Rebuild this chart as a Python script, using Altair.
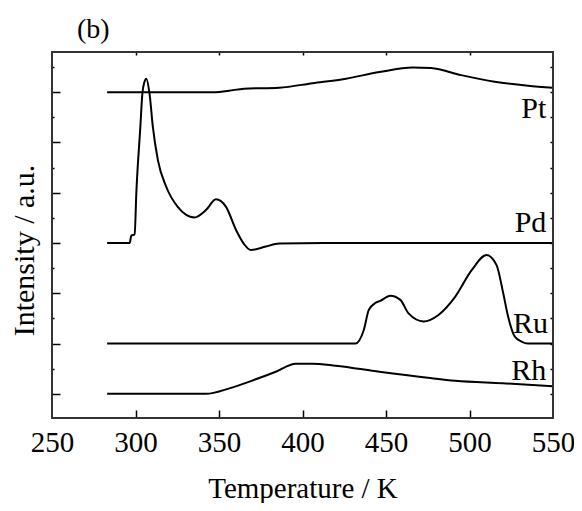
import altair as alt
import pandas as pd

FONT = "Liberation Serif"
FRAME = "#333333"

# Temperature (K) and offset intensity (a.u.)
pt_T = [283, 300, 330, 348, 356, 365, 386, 406, 426, 446, 466, 477, 495, 515, 535, 550]
pt_I = [7.0, 7.0, 7.0, 7.0, 7.03, 7.07, 7.09, 7.18, 7.27, 7.40, 7.49, 7.48, 7.34, 7.21, 7.13, 7.09]

pd_T = [283, 296.5, 297.5, 299.5, 300.5, 302.9, 304.1, 305.3, 306.5, 308.4, 310.4, 313.4,
        318.4, 325.3, 335.3, 342.3, 348.2, 354.2, 360.2, 365, 369.1, 378, 386, 420, 550]
pd_I = [4.0, 4.0, 4.15, 4.17, 5.0, 6.31, 6.97, 7.2, 7.27, 6.97, 6.31, 5.65,
        5.12, 4.72, 4.51, 4.66, 4.87, 4.72, 4.26, 3.98, 3.86, 3.93, 3.99, 4.0, 4.0]

ru_T = [283, 431.7, 436.7, 439.7, 443.7, 446.6, 452.6, 458.6, 463.5, 472.5, 481.4, 491.4,
        501.3, 510.2, 516.2, 520.2, 523.1, 527.1, 531.1, 535, 550]
ru_I = [2.0, 2.0, 2.27, 2.67, 2.81, 2.85, 2.95, 2.87, 2.60, 2.44, 2.57, 2.93,
        3.46, 3.76, 3.56, 3.0, 2.54, 2.14, 2.04, 2.0, 2.0]

rh_T = [283, 342.3, 356.2, 372, 384, 395.9, 405.8, 419.8, 446, 475, 491.5, 520, 550]
rh_I = [1.0, 1.0, 1.11, 1.29, 1.44, 1.6, 1.6, 1.56, 1.44, 1.32, 1.26, 1.21, 1.15]

metals = ["Pt", "Pd", "Ru", "Rh"]
label_T = [546, 546, 547, 546]
label_I = [6.49, 4.22, 2.21, 1.28]

x_domain = [250, 550]
y_domain = [0.52, 7.80]
x_major = [300, 350, 400, 450, 500]
x_labels = [250, 300, 350, 400, 450, 500, 550]
y_major = [1, 2, 3, 4, 5, 6, 7]
y_minor = [1.5, 2.5, 3.5, 4.5, 5.5, 6.5, 7.5]
y_right = [1, 1.5, 2, 2.5, 3, 3.5, 4, 4.5, 5, 5.5, 6, 6.5, 7, 7.5]

rows = []
for name, Ts, Is in [("Pt", pt_T, pt_I), ("Pd", pd_T, pd_I), ("Ru", ru_T, ru_I), ("Rh", rh_T, rh_I)]:
    for t, v in zip(Ts, Is):
        rows.append({"metal": name, "T": t, "I": v})
df = pd.DataFrame(rows)
lab = pd.DataFrame({"metal": metals, "T": label_T, "I": label_I})
vsides = pd.DataFrame({"x": x_domain, "y1": [y_domain[0]] * 2, "y2": [y_domain[1]] * 2})
hsides = pd.DataFrame({"y": y_domain, "x1": [x_domain[0]] * 2, "x2": [x_domain[1]] * 2})

xs = alt.Scale(domain=x_domain, nice=False, zero=False)
ys = alt.Scale(domain=y_domain, nice=False, zero=False)

W, H = 501, 366

frame_v = alt.Chart(vsides).mark_rule(color=FRAME, strokeWidth=1.8).encode(
    x=alt.X("x:Q", scale=xs, axis=None),
    y=alt.Y("y1:Q", scale=ys, axis=None),
    y2="y2:Q",
)
frame_h = alt.Chart(hsides).mark_rule(color=FRAME, strokeWidth=1.8).encode(
    y=alt.Y("y:Q", scale=ys, axis=None),
    x=alt.X("x1:Q", scale=xs, axis=None),
    x2="x2:Q",
)

lines = alt.Chart(df).mark_line(color="black", strokeWidth=2, interpolate="monotone").encode(
    x=alt.X("T:Q", scale=xs, title="Temperature / K",
            axis=alt.Axis(orient="bottom", values=x_labels, ticks=False, tickSize=0,
                          domain=False, grid=False, labelFontSize=29, labelFont=FONT,
                          labelColor="black", labelBaseline="alphabetic", labelPadding=33,
                          labelFlush=False, titleFontSize=29, titleFont=FONT,
                          titleFontWeight="normal", titleColor="black",
                          titleBaseline="alphabetic", titleY=79)),
    y=alt.Y("I:Q", scale=ys, title="Intensity / a.u.",
            axis=alt.Axis(orient="left", labels=False, ticks=False, tickSize=0,
                          domain=False, grid=False, titleFontSize=30, titleFont=FONT,
                          titleFontWeight="normal", titleColor="black", titleAngle=270,
                          titleBaseline="alphabetic", titleAlign="center",
                          titleX=-19, titleY=198)),
    detail="metal:N",
)

tick_common = dict(labels=False, domain=False, grid=False, tickColor="black", tickWidth=1.5)

ticks_a = alt.Chart(df).mark_line(strokeOpacity=0).encode(
    x=alt.X("T:Q", scale=xs, title=None,
            axis=alt.Axis(orient="bottom", values=x_major, tickSize=8, offset=-8, **tick_common)),
    y=alt.Y("I:Q", scale=ys, title=None,
            axis=alt.Axis(orient="left", values=y_major, tickSize=8, offset=-8, **tick_common)),
    detail="metal:N",
)

ticks_b = alt.Chart(df).mark_line(strokeOpacity=0).encode(
    x=alt.X("T:Q", scale=xs, title=None,
            axis=alt.Axis(orient="top", values=x_major, tickSize=3, offset=-3, **tick_common)),
    y=alt.Y("I:Q", scale=ys, title=None,
            axis=alt.Axis(orient="right", values=y_right, tickSize=3, offset=-3, **tick_common)),
    detail="metal:N",
)

ticks_c = alt.Chart(df).mark_line(strokeOpacity=0).encode(
    x=alt.X("T:Q", scale=xs, axis=None),
    y=alt.Y("I:Q", scale=ys, title=None,
            axis=alt.Axis(orient="left", values=y_minor, tickSize=2, offset=-2, **tick_common)),
    detail="metal:N",
)

labels = alt.Chart(lab).mark_text(align="right", baseline="alphabetic", font=FONT,
                                  fontSize=30, color="black").encode(
    x=alt.X("T:Q", scale=xs, axis=None),
    y=alt.Y("I:Q", scale=ys, axis=None),
    text="metal:N",
)

chart = alt.layer(lines, ticks_a, ticks_b, ticks_c, labels, frame_v, frame_h).resolve_axis(
    x="independent", y="independent"
).properties(
    width=W, height=H,
    title=alt.TitleParams("(b)", anchor="start", frame="group", dx=25, dy=32, offset=17,
                          baseline="alphabetic", fontSize=28, font=FONT,
                          fontWeight="normal", color="black"),
    autosize=alt.AutoSizeParams(type="none"),
    padding={"left": 44, "top": 44, "right": 21, "bottom": 85},
).configure(background="white",
            view=alt.ViewConfig(stroke=FRAME, strokeWidth=1.8))

chart.save("out.html", embed_options={"renderer": "svg", "actions": False})
